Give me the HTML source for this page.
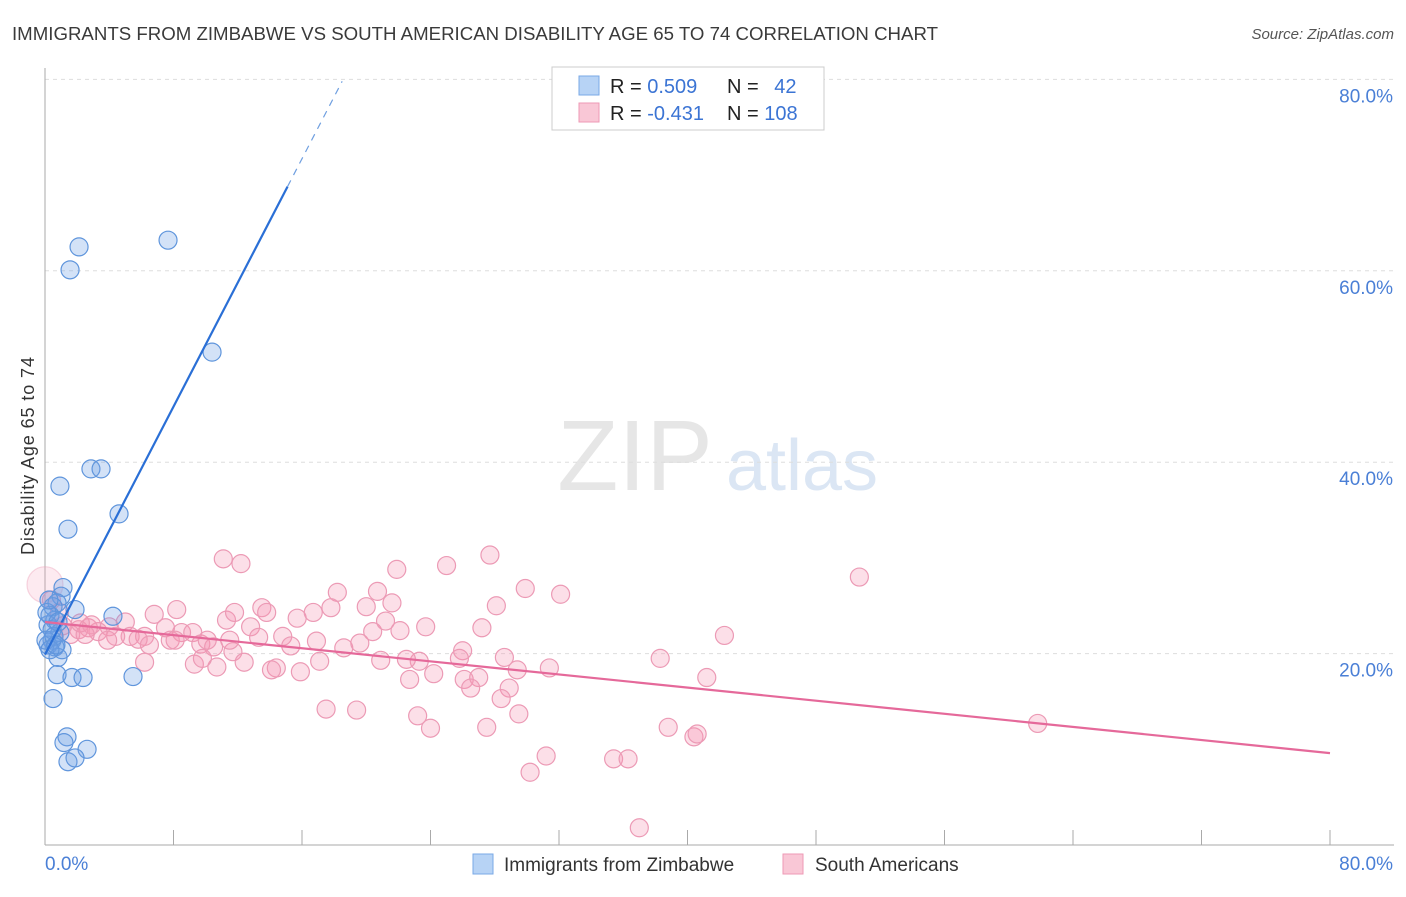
<!DOCTYPE html>
<html><head><meta charset="utf-8">
<style>
body{margin:0;background:#fff;width:1406px;height:892px;overflow:hidden;font-family:"Liberation Sans",sans-serif}
svg text{font-family:"Liberation Sans",sans-serif}
</style></head>
<body>
<svg id="chart" width="1406" height="892" xmlns="http://www.w3.org/2000/svg">
<text x="12" y="40" font-size="18" fill="#3a3a3a" textLength="926" lengthAdjust="spacingAndGlyphs">IMMIGRANTS FROM ZIMBABWE VS SOUTH AMERICAN DISABILITY AGE 65 TO 74 CORRELATION CHART</text>
<text x="1394" y="39" font-size="15" fill="#555" text-anchor="end" font-style="italic">Source: ZipAtlas.com</text>
<text transform="translate(34,456) rotate(-90)" font-size="18" fill="#333" text-anchor="middle" textLength="198">Disability Age 65 to 74</text>
<g>
<text x="635" y="490" font-size="100" fill="#e6e6e6" text-anchor="middle" font-family="Liberation Serif">ZIP</text>
<text x="802" y="490" font-size="72" fill="#dbe6f4" text-anchor="middle">atlas</text>
</g>
<g id="grid"></g>
<g id="axes"></g>
<g id="pts"></g>
<g id="lines"></g>
<g>
<rect x="552" y="67" width="272" height="63" fill="#fff" stroke="#ccc"/>
<rect x="579" y="76" width="20" height="19" fill="#b7d3f5" stroke="#7aa8e6"/>
<rect x="579" y="103" width="20" height="19" fill="#f9c7d6" stroke="#ee9ab5"/>
<text x="610" y="93" font-size="20" fill="#222">R = <tspan fill="#3b74d4">0.509</tspan></text>
<text x="727" y="93" font-size="20" fill="#222">N = <tspan fill="#3b74d4" dx="10">42</tspan></text>
<text x="610" y="120" font-size="20" fill="#222">R = <tspan fill="#3b74d4">-0.431</tspan></text>
<text x="727" y="120" font-size="20" fill="#222">N = <tspan fill="#3b74d4">108</tspan></text>
</g>
<g>
<rect x="473" y="854" width="20" height="20" fill="#b7d3f5" stroke="#7aa8e6"/>
<text x="504" y="871" font-size="19" fill="#333">Immigrants from Zimbabwe</text>
<rect x="783" y="854" width="20" height="20" fill="#f9c7d6" stroke="#ee9ab5"/>
<text x="815" y="871" font-size="19" fill="#333">South Americans</text>
</g>
</svg>
<script>
const yTicks=[20,40,60,80];
const yTickLabels=["20.0%","40.0%","60.0%","80.0%"];
const xTicks=[0,8,16,24,32,40,48,56,64,72,80];
const blueX=[2.12,1.56,7.66,10.4,2.86,3.49,0.93,4.61,1.43,1.12,1.0,0.75,0.5,1.87,4.23,0.62,0.19,0.93,0.44,0.19,0.62,0.81,0.75,1.68,2.37,5.48,0.5,1.37,1.18,2.62,1.43,1.87,0.31,0.44,0.06,1.06,0.12,0.25,0.56,0.81,0.31,0.68];
const blueY=[62.5,60.1,63.2,51.5,39.3,39.3,37.5,34.6,33.0,26.9,26.0,25.3,24.9,24.6,23.9,23.5,23.0,22.2,21.4,20.9,20.7,19.6,17.8,17.5,17.5,17.6,15.3,11.3,10.7,10.0,8.7,9.1,24.0,22.5,21.4,20.4,24.3,25.6,21.8,23.3,20.4,20.9];
const pinkX=[0,11.1,12.2,27.7,25.0,21.9,20.7,18.2,29.9,32.1,50.7,21.6,28.1,20.0,13.5,13.8,8.2,6.8,15.7,16.7,17.8,11.3,12.8,11.8,8.5,7.5,9.2,5.0,4.0,3.3,2.7,2.1,1.6,1.1,2.2,2.9,5.3,6.2,5.8,6.5,7.8,9.7,10.5,11.7,13.3,14.8,15.3,16.9,18.6,19.6,20.4,21.2,22.1,23.7,26.0,27.2,28.6,29.4,31.4,25.8,23.3,22.5,20.9,17.1,14.4,12.4,10.7,9.3,9.8,6.2,22.7,24.2,26.1,27.0,26.5,28.9,28.4,17.5,19.4,23.2,24.0,27.5,29.5,31.2,30.2,35.4,36.3,38.8,40.4,40.6,41.2,42.3,38.3,61.8,37.0,15.9,14.1,11.5,0.4,0.9,2.5,4.4,8.1,10.1,3.9];
const pinkY=[27.2,29.9,29.4,30.3,29.2,28.8,26.5,26.4,26.8,26.2,28.0,25.3,25.0,24.9,24.8,24.3,24.6,24.1,23.7,24.3,24.8,23.5,22.8,24.3,22.2,22.7,22.2,23.3,22.8,22.3,22.7,22.5,22.0,22.9,23.2,23.0,21.8,21.8,21.5,20.9,21.4,21.0,20.7,20.2,21.7,21.8,20.8,21.3,20.6,21.1,22.3,23.4,22.4,22.8,20.3,22.7,19.6,18.3,18.5,19.5,19.2,19.4,19.3,19.2,18.5,19.1,18.6,18.9,19.5,19.1,17.3,17.9,17.3,17.5,16.4,16.4,15.3,14.2,14.1,13.5,12.2,12.3,13.7,9.3,7.6,9.0,9.0,12.3,11.3,11.6,17.5,21.9,19.5,12.7,1.8,18.1,18.3,21.4,25.6,24.3,22.0,21.8,21.4,21.4,21.4];
const blueLine=[[0,19.9],[15.1,68.8]];
const blueDash=[[15.1,68.8],[18.5,79.8]];
const pinkLine=[[0,23.3],[80,9.6]];
const NS="http://www.w3.org/2000/svg";
const X=v=>45+v*16.0625, Y=v=>845-v*9.57;
function mk(tag,attrs,parent){const e=document.createElementNS(NS,tag);for(const k in attrs)e.setAttribute(k,attrs[k]);parent.appendChild(e);return e;}
const grid=document.getElementById('grid'),axes=document.getElementById('axes'),pts=document.getElementById('pts'),lines=document.getElementById('lines');
yTicks.forEach((t,i)=>{
 const l=mk('line',{x1:45,x2:1394,y1:Y(t),y2:Y(t),stroke:'#ddd','stroke-dasharray':'4,4'},grid);
 
 
 const tx=mk('text',{x:1393,y:Y(t)+23,'font-size':19,fill:'#4a7fd6','text-anchor':'end'},axes);
 tx.textContent=yTickLabels[i];
 
 
});
const ax=mk('line',{x1:45,x2:1394,y1:845,y2:845,stroke:'#aaa'},axes);


const ay=mk('line',{x1:45,x2:45,y1:68,y2:845,stroke:'#aaa'},axes);


xTicks.forEach(t=>{
 const l=mk('line',{x1:X(t),x2:X(t),y1:845,y2:830,stroke:'#aaa'},axes);
 
 
});
const x0=mk('text',{x:45,y:870,'font-size':19,fill:'#4a7fd6'},axes);x0.textContent='0.0%';


const x1=mk('text',{x:1393,y:870,'font-size':19,fill:'#4a7fd6','text-anchor':'end'},axes);x1.textContent='80.0%';


pinkX.forEach((v,i)=>{
 const c=mk('circle',{cx:X(v),cy:Y(pinkY[i]),r:i===0?18:9,fill:i===0?'rgba(244,150,180,0.2)':'rgba(244,150,180,0.3)',stroke:i===0?'rgba(236,154,181,0.4)':'#ec9ab5','stroke-width':1.2},pts);
 
 
});
blueX.forEach((v,i)=>{
 const c=mk('circle',{cx:X(v),cy:Y(blueY[i]),r:9,fill:'rgba(110,160,230,0.3)',stroke:'#5f95dc','stroke-width':1.2},pts);
 
 
});
const bl=mk('line',{x1:X(blueLine[0][0]),y1:Y(blueLine[0][1]),x2:X(blueLine[1][0]),y2:Y(blueLine[1][1]),stroke:'#2a6fd6','stroke-width':2.2},lines);


const bd=mk('line',{x1:X(blueDash[0][0]),y1:Y(blueDash[0][1]),x2:X(blueDash[1][0]),y2:Y(blueDash[1][1]),stroke:'#6f9fe0','stroke-width':1.2,'stroke-dasharray':'7,6'},lines);


const pl=mk('line',{x1:X(pinkLine[0][0]),y1:Y(pinkLine[0][1]),x2:X(pinkLine[1][0]),y2:Y(pinkLine[1][1]),stroke:'#e5699a','stroke-width':2.2},lines);


</script>
</body></html>
